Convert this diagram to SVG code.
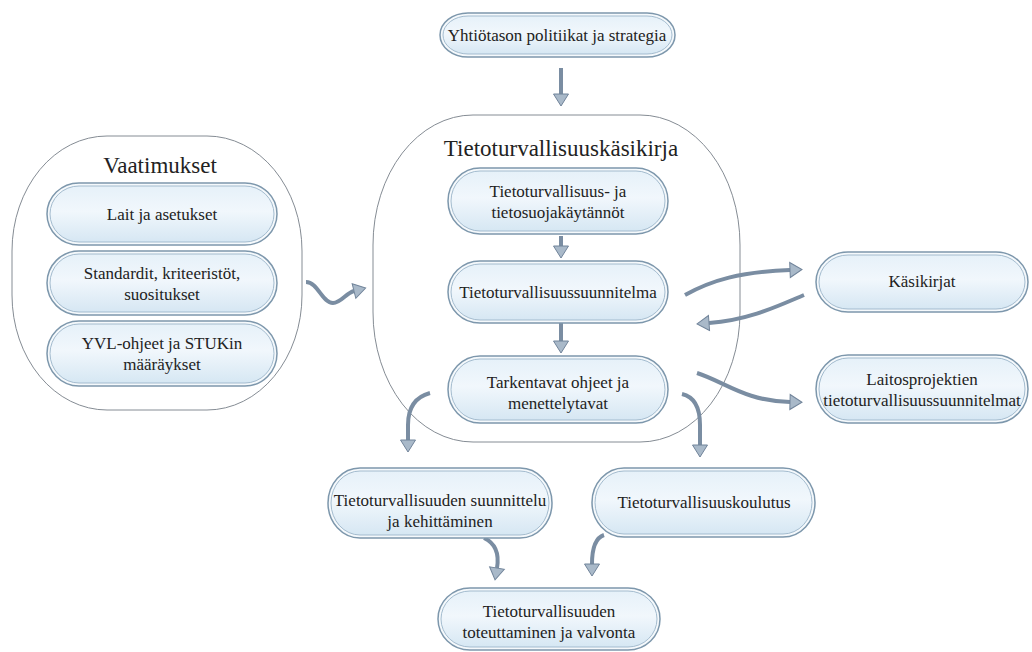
<svg xmlns="http://www.w3.org/2000/svg" width="1032" height="652" viewBox="0 0 1032 652" font-family="'Liberation Serif', 'DejaVu Serif', 'Times New Roman', serif">
<defs>
<linearGradient id="g" x1="0" y1="0" x2="0" y2="1">
<stop offset="0" stop-color="#e6f1f9"/>
<stop offset="0.45" stop-color="#f1f7fc"/>
<stop offset="1" stop-color="#d6e7f3"/>
</linearGradient>
<marker id="ah" markerUnits="userSpaceOnUse" viewBox="-1 -9 16 18" markerWidth="16" markerHeight="18" refX="0" refY="0" orient="auto">
<path d="M0,-7.5 L12,0 L0,7.5 Z" fill="#a9b9c9" stroke="#71849a" stroke-width="1"/>
</marker>
<style>
.cont{fill:#ffffff;stroke:#858c94;stroke-width:1}
.o{fill:#f5f9fc;stroke:#7d97ac;stroke-width:1.5}
.i{fill:url(#g);stroke:#a3bbce;stroke-width:1}
.t{font-size:17px;fill:#222;text-anchor:middle}
.h{font-size:23px;fill:#222;text-anchor:middle}
.c{fill:none;stroke:#7a8da2;stroke-width:4;marker-end:url(#ah)}
</style>
</defs>
<rect width="1032" height="652" fill="#ffffff"/>

<g id="vaatimukset">
<rect class="cont" x="12" y="136" width="290" height="274" rx="95" ry="115"/>
<text class="h" x="160" y="173">Vaatimukset</text>
</g>
<g id="kasikirja">
<rect class="cont" x="373" y="115" width="367" height="327" rx="100" ry="130"/>
<text class="h" x="561" y="156">Tietoturvallisuuskäsikirja</text>
</g>

<g id="connectors">
<path class="c" d="M561,68 L561,94"/>
<path class="c" d="M561,236 L561,246"/>
<path class="c" d="M561,323 L561,341"/>
<path class="c" d="M306,282 C318,282 322,303 333,303 C341,303 346,293 354,291"/>
<path class="c" d="M685,295 C712,280 740,272 790,270"/>
<path class="c" d="M804,295 C780,305 750,320 709,323"/>
<path class="c" d="M697,373 C725,382 745,401 790,402"/>
<path class="c" d="M430,393 C415,397 408,408 408,425 L408,440"/>
<path class="c" d="M682,394 C695,397 700,408 700,425 L700,445"/>
<path class="c" d="M484,538 C497,544 499,556 497,568"/>
<path class="c" d="M604,535 C595,538 592,548 592,564"/>
</g>

<g id="n-yhtio">
<rect class="o" x="440" y="13" width="235" height="44" rx="28" ry="22"/>
<rect class="i" x="443" y="16" width="229" height="38" rx="25" ry="19"/>
<text class="t" x="557" y="41">Yhtiötason politiikat ja strategia</text>
</g>

<g id="n-lait">
<rect class="o" x="47" y="183" width="230" height="62" rx="32" ry="31"/>
<rect class="i" x="50" y="186" width="224" height="56" rx="29" ry="28"/>
<text class="t" x="162" y="220">Lait ja asetukset</text>
</g>
<g id="n-standardit">
<rect class="o" x="47" y="251" width="230" height="64" rx="32" ry="32"/>
<rect class="i" x="50" y="254" width="224" height="58" rx="29" ry="29"/>
<text class="t" x="162" y="279">Standardit, kriteeristöt,</text>
<text class="t" x="162" y="300">suositukset</text>
</g>
<g id="n-yvl">
<rect class="o" x="47" y="321" width="230" height="65" rx="32" ry="32.5"/>
<rect class="i" x="50" y="324" width="224" height="59" rx="29" ry="29.5"/>
<text class="t" x="162" y="349">YVL-ohjeet ja STUKin</text>
<text class="t" x="162" y="370">määräykset</text>
</g>

<g id="n-kaytannot">
<rect class="o" x="448" y="168" width="220" height="66" rx="32" ry="33"/>
<rect class="i" x="451" y="171" width="214" height="60" rx="29" ry="30"/>
<text class="t" x="558" y="197">Tietoturvallisuus- ja</text>
<text class="t" x="558" y="218">tietosuojakäytännöt</text>
</g>
<g id="n-suunnitelma">
<rect class="o" x="448" y="261" width="220" height="62" rx="32" ry="31"/>
<rect class="i" x="451" y="264" width="214" height="56" rx="29" ry="28"/>
<text class="t" x="558" y="298">Tietoturvallisuussuunnitelma</text>
</g>
<g id="n-tarkentavat">
<rect class="o" x="448" y="356" width="220" height="67" rx="32" ry="33.5"/>
<rect class="i" x="451" y="359" width="214" height="61" rx="29" ry="30.5"/>
<text class="t" x="558" y="388">Tarkentavat ohjeet ja</text>
<text class="t" x="558" y="409">menettelytavat</text>
</g>

<g id="n-kasikirjat">
<rect class="o" x="816" y="252" width="212" height="60" rx="32" ry="30"/>
<rect class="i" x="819" y="255" width="206" height="54" rx="29" ry="27"/>
<text class="t" x="922" y="287">Käsikirjat</text>
</g>
<g id="n-laitos">
<rect class="o" x="816" y="355" width="212" height="68" rx="32" ry="34"/>
<rect class="i" x="819" y="358" width="206" height="62" rx="29" ry="31"/>
<text class="t" x="922" y="385">Laitosprojektien</text>
<text class="t" x="922" y="406">tietoturvallisuussuunnitelmat</text>
</g>

<g id="n-suunnittelu">
<rect class="o" x="328" y="468" width="224" height="70" rx="32" ry="35"/>
<rect class="i" x="331" y="471" width="218" height="64" rx="29" ry="32"/>
<text class="t" x="440" y="506">Tietoturvallisuuden suunnittelu</text>
<text class="t" x="440" y="527">ja kehittäminen</text>
</g>
<g id="n-koulutus">
<rect class="o" x="592" y="468" width="223" height="69" rx="32" ry="34.5"/>
<rect class="i" x="595" y="471" width="217" height="63" rx="29" ry="31.5"/>
<text class="t" x="704" y="508">Tietoturvallisuuskoulutus</text>
</g>
<g id="n-toteuttaminen">
<rect class="o" x="438" y="588" width="222" height="62" rx="32" ry="31"/>
<rect class="i" x="441" y="591" width="216" height="56" rx="29" ry="28"/>
<text class="t" x="549" y="617">Tietoturvallisuuden</text>
<text class="t" x="549" y="638">toteuttaminen ja valvonta</text>
</g>
</svg>
